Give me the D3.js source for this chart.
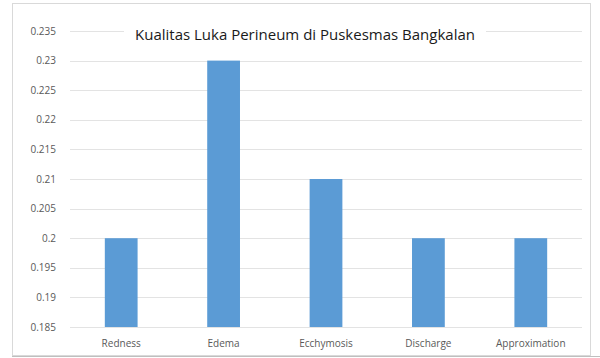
<!DOCTYPE html>
<html>
<head>
<meta charset="utf-8">
<script src="https://cdn.jsdelivr.net/npm/d3@7"></script>
<style>
  body { margin: 0; background: #fff; }
  text { font-family: "Open Sans", "Liberation Sans", sans-serif; }
</style>
</head>
<body>
<div id="chart"></div>
<script>
// data
const categories = ['Redness', 'Edema', 'Ecchymosis', 'Discharge', 'Approximation'];
const values = [0.2, 0.23, 0.21, 0.2, 0.2];
const yTicks = [0.185, 0.19, 0.195, 0.2, 0.205, 0.21, 0.215, 0.22, 0.225, 0.23, 0.235];
const chartTitle = 'Kualitas Luka Perineum  di Puskesmas Bangkalan';

const W = 600, H = 358;
const margin = {top: 31, right: 18, bottom: 31, left: 70};
const w = W - margin.left - margin.right,
      h = H - margin.top - margin.bottom;

const svg = d3.select('#chart').append('svg')
    .attr('width', W)
    .attr('height', H);

// outer chart border
svg.append('rect')
    .attr('x', 12.5).attr('y', 3.5)
    .attr('width', 578).attr('height', 352)
    .attr('fill', '#fff')
    .attr('stroke', '#d9d9d9');
svg.append('line')
    .attr('x1', 12).attr('x2', 600)
    .attr('y1', 356.5).attr('y2', 356.5)
    .attr('stroke', '#bfbfbf');

const g = svg.append('g')
    .attr('transform', 'translate(' + margin.left + ',' + margin.top + ')');

let x = d3.scaleBand()
    .domain(categories)
    .range([0, w])
    .paddingInner(0.68)
    .paddingOuter(0.34);

let y = d3.scaleLinear()
    .domain([0.185, 0.235])
    .range([h, 0]);

// gridlines
g.selectAll('line.grid')
    .data(yTicks)
    .enter()
    .append('line')
    .attr('class', 'grid')
    .attr('x1', 0).attr('x2', w)
    .attr('y1', d => Math.round(y(d)) + 0.5)
    .attr('y2', d => Math.round(y(d)) + 0.5)
    .attr('stroke', '#e3e3e3');

// y axis labels
g.selectAll('text.ytick')
    .data(yTicks)
    .enter()
    .append('text')
    .attr('class', 'ytick')
    .attr('x', -14)
    .attr('y', d => y(d))
    .attr('dy', '0.35em')
    .attr('text-anchor', 'end')
    .attr('font-size', 10)
    .attr('fill', '#595959')
    .text(d => d3.format('')(+d.toFixed(3)));

// bars
g.selectAll('rect.bar')
    .data(values)
    .enter()
    .append('rect')
    .attr('class', 'bar')
    .attr('x', (d, i) => x(categories[i]))
    .attr('y', d => y(d))
    .attr('width', x.bandwidth())
    .attr('height', d => h - y(d))
    .attr('fill', '#5b9bd5');

// x category labels
g.selectAll('text.xtick')
    .data(categories)
    .enter()
    .append('text')
    .attr('class', 'xtick')
    .attr('x', d => x(d) + x.bandwidth() / 2)
    .attr('y', h + 20)
    .attr('text-anchor', 'middle')
    .attr('font-size', 10)
    .attr('fill', '#595959')
    .text(d => d);

// title
svg.append('rect')
    .attr('x', 124).attr('y', 22)
    .attr('width', 362).attr('height', 26)
    .attr('fill', '#fff');
svg.append('text')
    .attr('x', 305)
    .attr('y', 40)
    .attr('text-anchor', 'middle')
    .attr('font-size', 15)
    .attr('fill', '#1a1a1a')
    .text(chartTitle);
</script>
</body>
</html>
